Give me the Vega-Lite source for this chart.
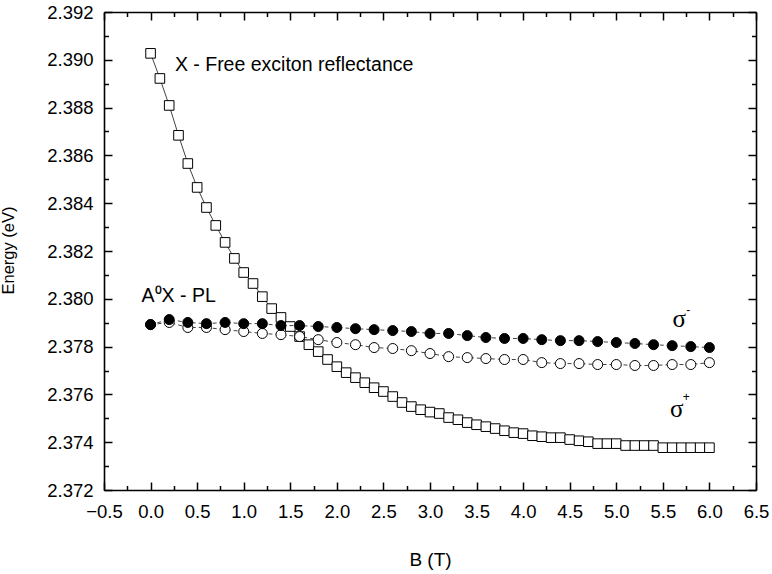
{
  "$schema": "https://vega.github.io/schema/vega-lite/v6.json",
  "width": 652,
  "height": 478,
  "autosize": "none",
  "padding": {"left": 104, "top": 12, "right": 16, "bottom": 84},
  "background": "white",
  "config": {
    "font": "Liberation Sans",
    "view": {"stroke": null},
    "axis": {"grid": false, "domainColor": "black", "tickColor": "black", "labelColor": "black", "titleColor": "black", "domainWidth": 1.6, "tickWidth": 1.5, "titleFontWeight": "normal", "labelFlush": false, "labelOverlap": false}
  },
  "datasets": {
    "sq": [
      {"B": 0.0, "E": 2.39027}, {"B": 0.1, "E": 2.38922}, {"B": 0.2, "E": 2.38809}, {"B": 0.3, "E": 2.38684}, {"B": 0.4, "E": 2.38566},
      {"B": 0.5, "E": 2.38466}, {"B": 0.6, "E": 2.38382}, {"B": 0.7, "E": 2.38307}, {"B": 0.8, "E": 2.38236}, {"B": 0.9, "E": 2.38169},
      {"B": 1.0, "E": 2.38110}, {"B": 1.1, "E": 2.38064}, {"B": 1.2, "E": 2.38009}, {"B": 1.3, "E": 2.37959}, {"B": 1.4, "E": 2.37922},
      {"B": 1.5, "E": 2.37884}, {"B": 1.6, "E": 2.37842}, {"B": 1.7, "E": 2.37808}, {"B": 1.8, "E": 2.37779}, {"B": 1.9, "E": 2.37746},
      {"B": 2.0, "E": 2.37716}, {"B": 2.1, "E": 2.37691}, {"B": 2.2, "E": 2.37670}, {"B": 2.3, "E": 2.37649}, {"B": 2.4, "E": 2.37628},
      {"B": 2.5, "E": 2.37612}, {"B": 2.6, "E": 2.37591}, {"B": 2.7, "E": 2.37566}, {"B": 2.8, "E": 2.37549}, {"B": 2.9, "E": 2.37536},
      {"B": 3.0, "E": 2.37526}, {"B": 3.1, "E": 2.37520}, {"B": 3.2, "E": 2.37503}, {"B": 3.3, "E": 2.37494}, {"B": 3.4, "E": 2.37482},
      {"B": 3.5, "E": 2.37473}, {"B": 3.6, "E": 2.37465}, {"B": 3.7, "E": 2.37457}, {"B": 3.8, "E": 2.37448}, {"B": 3.9, "E": 2.37440},
      {"B": 4.0, "E": 2.37436}, {"B": 4.1, "E": 2.37427}, {"B": 4.2, "E": 2.37423}, {"B": 4.3, "E": 2.37419}, {"B": 4.4, "E": 2.37419},
      {"B": 4.5, "E": 2.37411}, {"B": 4.6, "E": 2.37406}, {"B": 4.7, "E": 2.37402}, {"B": 4.8, "E": 2.37394}, {"B": 4.9, "E": 2.37394},
      {"B": 5.0, "E": 2.37394}, {"B": 5.1, "E": 2.37386}, {"B": 5.2, "E": 2.37386}, {"B": 5.3, "E": 2.37386}, {"B": 5.4, "E": 2.37386},
      {"B": 5.5, "E": 2.37377}, {"B": 5.6, "E": 2.37377}, {"B": 5.7, "E": 2.37377}, {"B": 5.8, "E": 2.37377}, {"B": 5.9, "E": 2.37377},
      {"B": 6.0, "E": 2.37377}
    ],
    "fc": [
      {"B": 0.0, "E": 2.37892}, {"B": 0.2, "E": 2.37913}, {"B": 0.4, "E": 2.37901}, {"B": 0.6, "E": 2.37896}, {"B": 0.8, "E": 2.37901},
      {"B": 1.0, "E": 2.37896}, {"B": 1.2, "E": 2.37896}, {"B": 1.4, "E": 2.37888}, {"B": 1.6, "E": 2.37888}, {"B": 1.8, "E": 2.37884},
      {"B": 2.0, "E": 2.37880}, {"B": 2.2, "E": 2.37875}, {"B": 2.4, "E": 2.37871}, {"B": 2.6, "E": 2.37867}, {"B": 2.8, "E": 2.37863},
      {"B": 3.0, "E": 2.37855}, {"B": 3.2, "E": 2.37855}, {"B": 3.4, "E": 2.37846}, {"B": 3.6, "E": 2.37838}, {"B": 3.8, "E": 2.37834},
      {"B": 4.0, "E": 2.37834}, {"B": 4.2, "E": 2.37829}, {"B": 4.4, "E": 2.37825}, {"B": 4.6, "E": 2.37825}, {"B": 4.8, "E": 2.37821},
      {"B": 5.0, "E": 2.37817}, {"B": 5.2, "E": 2.37813}, {"B": 5.4, "E": 2.37808}, {"B": 5.6, "E": 2.37804}, {"B": 5.8, "E": 2.37800},
      {"B": 6.0, "E": 2.37796}
    ],
    "oc": [
      {"B": 0.0, "E": 2.37892}, {"B": 0.2, "E": 2.37901}, {"B": 0.4, "E": 2.37880}, {"B": 0.6, "E": 2.37880}, {"B": 0.8, "E": 2.37871},
      {"B": 1.0, "E": 2.37863}, {"B": 1.2, "E": 2.37855}, {"B": 1.4, "E": 2.37850}, {"B": 1.6, "E": 2.37842}, {"B": 1.8, "E": 2.37829},
      {"B": 2.0, "E": 2.37817}, {"B": 2.2, "E": 2.37808}, {"B": 2.4, "E": 2.37796}, {"B": 2.6, "E": 2.37792}, {"B": 2.8, "E": 2.37783},
      {"B": 3.0, "E": 2.37771}, {"B": 3.2, "E": 2.37758}, {"B": 3.4, "E": 2.37754}, {"B": 3.6, "E": 2.37750}, {"B": 3.8, "E": 2.37746},
      {"B": 4.0, "E": 2.37746}, {"B": 4.2, "E": 2.37733}, {"B": 4.4, "E": 2.37729}, {"B": 4.6, "E": 2.37729}, {"B": 4.8, "E": 2.37725},
      {"B": 5.0, "E": 2.37725}, {"B": 5.2, "E": 2.37721}, {"B": 5.4, "E": 2.37721}, {"B": 5.6, "E": 2.37725}, {"B": 5.8, "E": 2.37725},
      {"B": 6.0, "E": 2.37733}
    ]
  },
  "resolve": {"axis": {"x": "independent", "y": "independent"}},
  "layer": [
    {
      "data": {"name": "sq"},
      "mark": {"type": "line", "color": "#444444", "strokeWidth": 1},
      "encoding": {
        "x": {"field": "B", "type": "quantitative", "scale": {"domain": [-0.5, 6.5], "nice": false, "zero": false},
          "axis": {"orient": "bottom", "values": [-0.5, 0, 0.5, 1, 1.5, 2, 2.5, 3, 3.5, 4, 4.5, 5, 5.5, 6, 6.5], "format": ".1f", "ticks": false, "labelFontSize": 18.5, "labelPadding": 12, "title": "B (T)", "titleFontSize": 19, "titleY": 75, "titleBaseline": "alphabetic"}},
        "y": {"field": "E", "type": "quantitative", "scale": {"domain": [2.372, 2.392], "nice": false, "zero": false},
          "axis": {"orient": "left", "values": [2.372, 2.374, 2.376, 2.378, 2.38, 2.382, 2.384, 2.386, 2.388, 2.39, 2.392], "format": ".3f", "ticks": false, "labelFontSize": 18.5, "labelPadding": 11, "title": "Energy (eV)", "titleFontSize": 16.5, "titleAngle": 270, "titleX": -91, "titleY": 238, "titleAlign": "center", "titleBaseline": "alphabetic"}}
      }
    },
    {
      "data": {"name": "sq"},
      "mark": {"type": "point", "shape": "square", "size": 92, "filled": true, "fill": "white", "stroke": "black", "strokeWidth": 1, "opacity": 1},
      "encoding": {
        "x": {"field": "B", "type": "quantitative",
          "axis": {"orient": "bottom", "offset": -8, "values": [-0.5, 0, 0.5, 1, 1.5, 2, 2.5, 3, 3.5, 4, 4.5, 5, 5.5, 6, 6.5], "tickSize": 8, "labels": false, "domain": false, "title": null}},
        "y": {"field": "E", "type": "quantitative",
          "axis": {"orient": "left", "offset": -8, "values": [2.372, 2.374, 2.376, 2.378, 2.38, 2.382, 2.384, 2.386, 2.388, 2.39, 2.392], "tickSize": 8, "labels": false, "domain": false, "title": null}}
      }
    },
    {
      "data": {"name": "oc"},
      "mark": {"type": "line", "color": "#444444", "strokeWidth": 1, "strokeDash": [4, 3]},
      "encoding": {
        "x": {"field": "B", "type": "quantitative",
          "axis": {"orient": "bottom", "offset": -4.5, "values": [-0.25, 0.25, 0.75, 1.25, 1.75, 2.25, 2.75, 3.25, 3.75, 4.25, 4.75, 5.25, 5.75, 6.25], "tickSize": 4.5, "labels": false, "domain": false, "title": null}},
        "y": {"field": "E", "type": "quantitative",
          "axis": {"orient": "left", "offset": -4.5, "values": [2.373, 2.375, 2.377, 2.379, 2.381, 2.383, 2.385, 2.387, 2.389, 2.391], "tickSize": 4.5, "labels": false, "domain": false, "title": null}}
      }
    },
    {
      "data": {"name": "oc"},
      "mark": {"type": "point", "shape": "circle", "size": 100, "filled": true, "fill": "white", "stroke": "black", "strokeWidth": 1, "opacity": 1},
      "encoding": {
        "x": {"field": "B", "type": "quantitative",
          "axis": {"orient": "top", "ticks": false, "labels": false, "title": null}},
        "y": {"field": "E", "type": "quantitative",
          "axis": {"orient": "right", "ticks": false, "labels": false, "title": null}}
      }
    },
    {
      "data": {"name": "fc"},
      "mark": {"type": "line", "color": "#444444", "strokeWidth": 1, "strokeDash": [4, 3]},
      "encoding": {
        "x": {"field": "B", "type": "quantitative",
          "axis": {"orient": "top", "offset": -8, "values": [-0.5, 0, 0.5, 1, 1.5, 2, 2.5, 3, 3.5, 4, 4.5, 5, 5.5, 6, 6.5], "tickSize": 8, "labels": false, "domain": false, "title": null}},
        "y": {"field": "E", "type": "quantitative",
          "axis": {"orient": "right", "offset": -8, "values": [2.372, 2.374, 2.376, 2.378, 2.38, 2.382, 2.384, 2.386, 2.388, 2.39, 2.392], "tickSize": 8, "labels": false, "domain": false, "title": null}}
      }
    },
    {
      "data": {"name": "fc"},
      "mark": {"type": "point", "shape": "circle", "size": 100, "filled": true, "fill": "black", "stroke": "black", "strokeWidth": 1, "opacity": 1},
      "encoding": {
        "x": {"field": "B", "type": "quantitative",
          "axis": {"orient": "top", "offset": -4.5, "values": [-0.25, 0.25, 0.75, 1.25, 1.75, 2.25, 2.75, 3.25, 3.75, 4.25, 4.75, 5.25, 5.75, 6.25], "tickSize": 4.5, "labels": false, "domain": false, "title": null}},
        "y": {"field": "E", "type": "quantitative",
          "axis": {"orient": "right", "offset": -4.5, "values": [2.373, 2.375, 2.377, 2.379, 2.381, 2.383, 2.385, 2.387, 2.389, 2.391], "tickSize": 4.5, "labels": false, "domain": false, "title": null}}
      }
    },
    {
      "data": {"values": [
        {"B": 0.261, "E": 2.38952, "label": "X - Free exciton reflectance"},
        {"B": -0.097, "E": 2.37988, "label": "A⁰X - PL"}
      ]},
      "mark": {"type": "text", "align": "left", "baseline": "alphabetic", "fontSize": 19.5, "font": "Liberation Sans", "color": "black"},
      "encoding": {
        "x": {"field": "B", "type": "quantitative", "axis": null},
        "y": {"field": "E", "type": "quantitative", "axis": null},
        "text": {"field": "label"}
      }
    },
    {
      "data": {"values": [
        {"B": 5.675, "E": 2.3788, "label": "σ"},
        {"B": 5.648, "E": 2.37507, "label": "σ"}
      ]},
      "mark": {"type": "text", "align": "center", "baseline": "alphabetic", "fontSize": 25, "font": "Liberation Serif", "color": "black"},
      "encoding": {
        "x": {"field": "B", "type": "quantitative", "axis": null},
        "y": {"field": "E", "type": "quantitative", "axis": null},
        "text": {"field": "label"}
      }
    },
    {
      "data": {"values": [
        {"B": 5.772, "E": 2.37955, "label": "-"},
        {"B": 5.75, "E": 2.37591, "label": "+"}
      ]},
      "mark": {"type": "text", "align": "center", "baseline": "middle", "fontSize": 12, "font": "Liberation Sans", "color": "black"},
      "encoding": {
        "x": {"field": "B", "type": "quantitative", "axis": null},
        "y": {"field": "E", "type": "quantitative", "axis": null},
        "text": {"field": "label"}
      }
    }
  ]
}
